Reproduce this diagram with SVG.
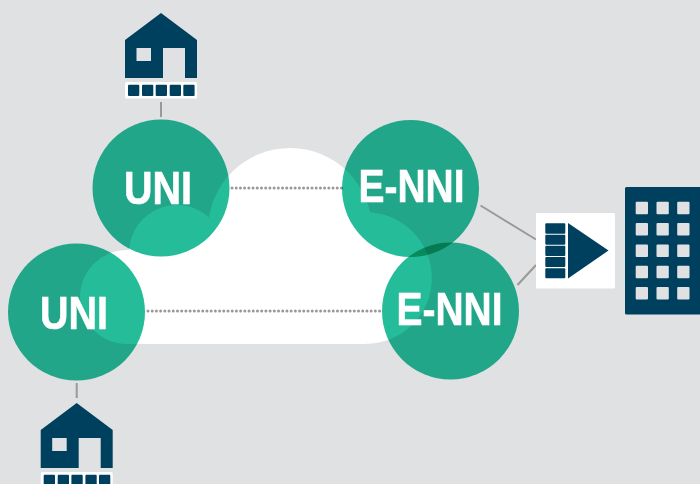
<svg xmlns="http://www.w3.org/2000/svg" width="700" height="484" viewBox="0 0 700 484">
<style>
.navy{fill:#00405f}
.bg{fill:#e0e1e3}
.wh{fill:#fff}
.link{stroke:#999;stroke-width:2;fill:none}
.dots{stroke:#999;stroke-width:3;stroke-linecap:round;stroke-dasharray:0.01 4.2;fill:none}
.bubble{fill:#25bc9a;mix-blend-mode:multiply}
.lbl{font-family:"Liberation Sans",Arial,sans-serif;font-weight:700;font-size:46px;fill:#fff;stroke:#fff;stroke-width:.6}
</style>
<defs>
<g id="house">
<path class="navy" d="M125 40L161 13L197 40V78H185V48H163V78H125ZM136.500 48V61H151V48Z" fill-rule="evenodd"/>
<rect class="wh" x="125" y="82" width="72" height="16.500" rx="1.500"/>
<rect class="navy" x="128" y="84.700" width="11.300" height="11.300" rx="1"/>
<rect class="navy" x="142" y="84.700" width="11.300" height="11.300" rx="1"/>
<rect class="navy" x="155.700" y="84.700" width="11.300" height="11.300" rx="1"/>
<rect class="navy" x="169.700" y="84.700" width="11.300" height="11.300" rx="1"/>
<rect class="navy" x="183.300" y="84.700" width="11.300" height="11.300" rx="1"/>
</g>
</defs>
<rect width="700" height="484" class="bg"/>
<g id="cloud" class="wh">
<circle cx="127" cy="297" r="47"/>
<circle cx="177" cy="253" r="48"/>
<circle cx="290" cy="230" r="82"/>
<circle cx="366" cy="278" r="65.800"/>
<rect x="127" y="250" width="239" height="94"/>
</g>
<g id="connectors">
<path class="link" d="M161 102V117"/>
<path class="link" d="M76.700 383V398"/>
<path class="link" d="M480.500 205.500L536 239.500"/>
<path class="link" d="M517.500 285L536 265"/>
<path class="dots" d="M232 188H342"/>
<path class="dots" d="M148 311H381"/>
</g>
<g id="house-top"><use href="#house"/></g>
<g id="house-bottom"><use href="#house" x="-84.300" y="390"/></g>
<g id="uni-top"><circle class="bubble" cx="161" cy="188" r="68.500"/><text class="lbl" x="124" y="204" textLength="68" lengthAdjust="spacingAndGlyphs">UNI</text></g>
<g id="uni-left"><circle class="bubble" cx="76.500" cy="312" r="68.500"/><text class="lbl" x="40" y="329" textLength="68" lengthAdjust="spacingAndGlyphs">UNI</text></g>
<g id="enni-top"><circle class="bubble" cx="410.500" cy="188.500" r="68.500"/><text class="lbl" x="358.500" y="202" textLength="106" lengthAdjust="spacingAndGlyphs">E-NNI</text></g>
<g id="enni-bottom"><circle class="bubble" cx="450.500" cy="311" r="68.500"/><text class="lbl" x="396.500" y="325" textLength="106" lengthAdjust="spacingAndGlyphs">E-NNI</text></g>
<g id="gateway">
<rect class="wh" x="536" y="213" width="79" height="75.500" rx="1"/>
<rect class="navy" x="545.300" y="223.300" width="20" height="10.400" rx="1"/>
<rect class="navy" x="545.300" y="234.700" width="20" height="10" rx="1"/>
<rect class="navy" x="545.300" y="245.700" width="20" height="10.300" rx="1"/>
<rect class="navy" x="545.300" y="257" width="20" height="10" rx="1"/>
<rect class="navy" x="545.300" y="268.300" width="20" height="10" rx="1"/>
<path class="navy" d="M568 223L608.500 250.500L568 278.500Z"/>
</g>
<g id="building">
<rect class="navy" x="625" y="187" width="76" height="127.500" rx="1.500"/>
<g class="bg">
<rect x="635.700" y="201.700" width="12.300" height="12.600" rx="1"/><rect x="656.500" y="201.700" width="12.300" height="12.600" rx="1"/><rect x="677.200" y="201.700" width="12.300" height="12.600" rx="1"/>
<rect x="635.700" y="223" width="12.300" height="12.600" rx="1"/><rect x="656.500" y="223" width="12.300" height="12.600" rx="1"/><rect x="677.200" y="223" width="12.300" height="12.600" rx="1"/>
<rect x="635.700" y="244.400" width="12.300" height="12.600" rx="1"/><rect x="656.500" y="244.400" width="12.300" height="12.600" rx="1"/><rect x="677.200" y="244.400" width="12.300" height="12.600" rx="1"/>
<rect x="635.700" y="265.700" width="12.300" height="12.600" rx="1"/><rect x="656.500" y="265.700" width="12.300" height="12.600" rx="1"/><rect x="677.200" y="265.700" width="12.300" height="12.600" rx="1"/>
<rect x="635.700" y="287" width="12.300" height="12.600" rx="1"/><rect x="656.500" y="287" width="12.300" height="12.600" rx="1"/><rect x="677.200" y="287" width="12.300" height="12.600" rx="1"/>
</g>
</g>
</svg>
